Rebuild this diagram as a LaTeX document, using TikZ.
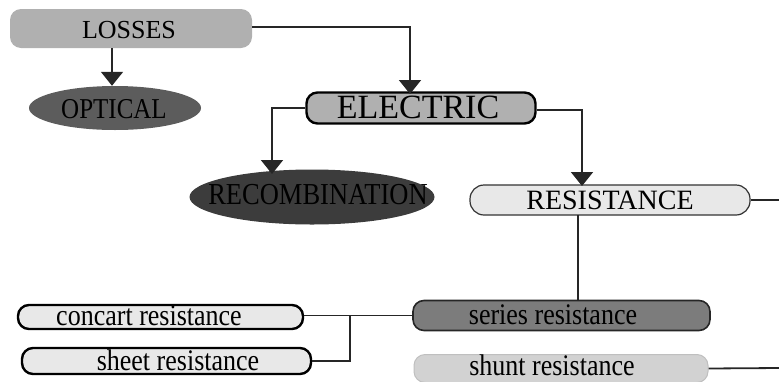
\documentclass[tikz,border=0pt]{standalone}
\usepackage{fontspec}
\setmainfont{Liberation Serif}
\usetikzlibrary{arrows.meta,shapes.geometric}
\definecolor{boxlight}{HTML}{E8E8E8}
\definecolor{boxmid}{HTML}{B0B0B0}
\definecolor{boxdark}{HTML}{7C7C7C}
\definecolor{ovalmid}{HTML}{5C5C5C}
\definecolor{ovaldark}{HTML}{3C3C3C}
\definecolor{shuntfill}{HTML}{D2D2D2}
\newcommand{\tallsize}[2]{\fontsize{#1}{#1}\selectfont\scalebox{1}[1.15]{#2}}
\tikzset{
  conn/.style={line width=1.8pt, draw=black!85},
  arr/.style={conn, -{Triangle[width=22pt,length=14pt]}},
  pill/.style={rectangle, rounded corners=11pt, inner sep=0pt},
  lbl/.style={text=black, inner sep=0pt},
}
\begin{document}
\begin{tikzpicture}[x=1pt,y=-1pt]
\useasboundingbox (0,0) rectangle (779,381);

% top level
\node[pill, fill=boxmid, minimum width=242pt, minimum height=39pt] (losses) at (131,28.5) {};
\node[lbl, font=\fontsize{26}{26}\selectfont] at (129,30) {LOSSES};

\node[ellipse, fill=ovalmid, minimum width=172pt, minimum height=44pt, inner sep=0pt] (optical) at (115,108) {};
\node[lbl] at (114,109) {\tallsize{25}{OPTICAL}};

\node[pill, fill=boxmid, draw=black, line width=2.4pt, minimum width=229pt, minimum height=31pt] (electric) at (421,108) {};
\node[lbl, font=\fontsize{34}{34}\selectfont] at (418,107) {ELECTRIC};

\node[ellipse, fill=ovaldark, minimum width=245pt, minimum height=55pt, inner sep=0pt] (recomb) at (312,197) {};
\node[lbl] at (318,195) {\tallsize{26.5}{RECOMBINATION}};

\node[pill, rounded corners=14pt, fill=boxlight, draw=black!80, line width=1.2pt, minimum width=280pt, minimum height=30pt] (resist) at (610,200) {};
\node[lbl, font=\fontsize{28}{28}\selectfont] at (610,200) {RESISTANCE};

% resistance kinds
\node[pill, fill=boxdark, draw=black!85, line width=1.6pt, minimum width=297pt, minimum height=30pt] (series) at (561.5,315.5) {};
\node[lbl] at (553,315) {\tallsize{26}{series resistance}};

\node[pill, fill=shuntfill, draw=black!25, line width=1pt, minimum width=294pt, minimum height=28pt] (shunt) at (561,368.5) {};
\node[lbl] at (552,365) {\tallsize{26}{shunt resistance}};

\node[pill, fill=boxlight, draw=black, line width=2.4pt, minimum width=285pt, minimum height=24pt] (concart) at (160.5,317) {};
\node[lbl] at (149,316) {\tallsize{26}{concart resistance}};

\node[pill, fill=boxlight, draw=black, line width=2.4pt, minimum width=289pt, minimum height=26pt] (sheet) at (166.5,361) {};
\node[lbl] at (178,360) {\tallsize{26}{sheet resistance}};

% connectors
\coordinate (rightA) at (779,200);
\coordinate (rightB) at (779,368);
\draw[arr] (losses.east |- 0,27) -- (410,27) -- (410,94);
\draw[arr] (112,48) -- (optical.north -| 112,0);
\draw[arr] (electric.west) -- (272,108) -- (272,174);
\draw[arr] (electric.east |- 0,110) -- (582,110) -- (582,186);
\draw[conn] (resist.east) -- (rightA);
\draw[conn] (578,215) -- (578,300.5);
\draw[conn] (series.west) -- (concart.east |- series.west);
\draw[conn] (350,315.5) |- (sheet.east);
\draw[conn] (shunt.east) -- (rightB);
\end{tikzpicture}
\end{document}
